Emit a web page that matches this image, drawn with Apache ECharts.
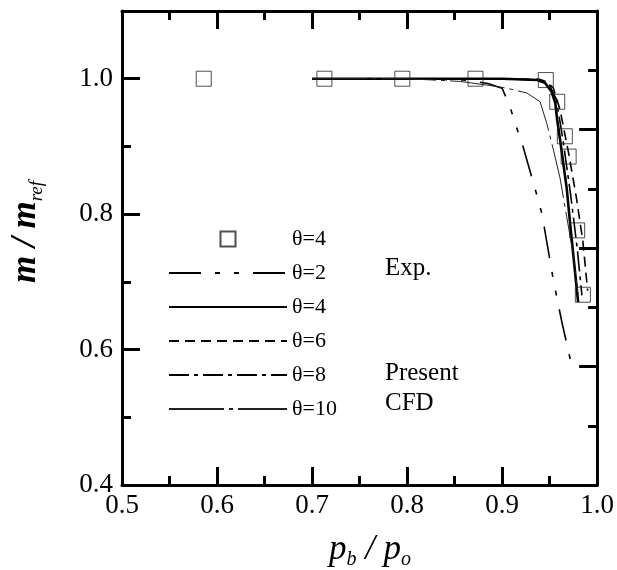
<!DOCTYPE html>
<html>
<head>
<meta charset="utf-8">
<script src="https://cdn.jsdelivr.net/npm/echarts@6/dist/echarts.min.js"></script>
<style>
  html, body { margin: 0; padding: 0; background: #fff; }
  #chart { width: 617px; height: 570px; }
</style>
</head>
<body>
<div id="chart"></div>
<script>
// experiment, theta = 4
var expX = [0.586, 0.713, 0.795, 0.872, 0.946, 0.958, 0.966, 0.970, 0.979, 0.985];
var expY = [1.0, 1.0, 1.0, 1.0, 0.998, 0.966, 0.915, 0.885, 0.776, 0.681];

// present CFD curves
var t2X = [0.70, 0.80, 0.86, 0.885, 0.90, 0.908, 0.915, 0.922, 0.935, 0.942, 0.954, 0.963, 0.972];
var t2Y = [1.0, 1.0, 0.998, 0.993, 0.986, 0.96, 0.929, 0.90, 0.836, 0.80, 0.702, 0.64, 0.584];

var t4X = [0.70, 0.80, 0.90, 0.937, 0.945, 0.952, 0.956, 0.958, 0.961, 0.968, 0.972, 0.980];
var t4Y = [1.0, 1.0, 1.0, 0.998, 0.994, 0.981, 0.964, 0.939, 0.91, 0.838, 0.78, 0.67];

var t6X = [0.70, 0.90, 0.94, 0.948, 0.954, 0.961, 0.970, 0.978, 0.985, 0.990];
var t6Y = [1.0, 1.0, 0.999, 0.995, 0.986, 0.954, 0.89, 0.826, 0.76, 0.687];

var t8X = [0.70, 0.90, 0.94, 0.95, 0.957, 0.964, 0.972, 0.979, 0.984];
var t8Y = [1.0, 1.0, 0.998, 0.99, 0.97, 0.91, 0.83, 0.75, 0.68];

var t10X = [0.70, 0.80, 0.856, 0.887, 0.905, 0.926, 0.940, 0.947, 0.954, 0.961, 0.968, 0.975, 0.980];
var t10Y = [1.0, 1.0, 0.996, 0.99, 0.986, 0.979, 0.966, 0.934, 0.895, 0.853, 0.796, 0.74, 0.68];

var xTicks = [0.5, 0.6, 0.7, 0.8, 0.9, 1.0];
var yTicks = [0.4, 0.6, 0.8, 1.0];

var legendNames = {
    exp4: 'θ=4', t2: 'θ=2', t4: 'θ=4', t6: 'θ=6', t8: 'θ=8', t10: 'θ=10'
};

var serif = "'Liberation Serif', 'DejaVu Serif', serif";

function pairs(xs, ys) {
    return xs.map(function (x, i) { return [x, ys[i]]; });
}

var black = '#000';
var clear = 'rgba(0,0,0,0)';
var tickStyle = { color: black, width: 3 };

function xAx(pos, labels) {
    return {
        type: 'value',
        position: pos,
        min: xTicks[0],
        max: xTicks[xTicks.length - 1],
        interval: 0.1,
        axisLine: { show: true, onZero: false, lineStyle: { color: black, width: 3 } },
        axisTick: { show: true, inside: true, length: 18, lineStyle: tickStyle },
        minorTick: { show: true, splitNumber: 2, length: 9, lineStyle: tickStyle },
        axisLabel: {
            show: labels,
            color: black,
            fontFamily: serif,
            fontSize: 27,
            margin: 7,
            formatter: function (v) { return v.toFixed(1); }
        },
        splitLine: { show: false },
        minorSplitLine: { show: false }
    };
}

function cfdLine(name, xs, ys, width, dash, color) {
    return {
        name: name,
        type: 'line',
        showSymbol: false,
        symbol: 'none',
        itemStyle: { color: clear },
        lineStyle: { color: color || black, width: width, type: dash },
        data: pairs(xs, ys)
    };
}

var myChart = echarts.init(document.getElementById('chart'));

var option = {
    backgroundColor: '#fff',
    animation: false,
    grid: { left: 122, right: 19, top: 11, bottom: 85, containLabel: false },
    xAxis: [xAx('bottom', true), xAx('top', false)],
    yAxis: [
        {
            type: 'value',
            position: 'left',
            offset: 0,
            min: yTicks[0],
            max: 1.1,
            interval: 0.2,
            axisLine: { show: true, onZero: false, lineStyle: { color: black, width: 3 } },
            axisTick: { show: true, inside: true, length: 18, lineStyle: tickStyle },
            axisLabel: {
                color: black,
                fontFamily: serif,
                fontSize: 27,
                margin: 9,
                formatter: function (v) { return v > 1.05 ? '' : v.toFixed(1); }
            },
            splitLine: { show: false }
        },
        {
            type: 'value',
            position: 'left',
            offset: 0,
            min: 0.4,
            max: 1.1,
            interval: 0.1,
            axisLine: { show: false },
            axisTick: { show: true, inside: true, length: 9, lineStyle: tickStyle },
            axisLabel: { show: false },
            splitLine: { show: false }
        },
        {
            type: 'value',
            position: 'right',
            offset: 0,
            min: 0,
            max: 8,
            interval: 2,
            axisLine: { show: true, onZero: false, lineStyle: { color: black, width: 3 } },
            axisTick: { show: true, inside: true, length: 18, lineStyle: tickStyle },
            minorTick: { show: true, splitNumber: 2, length: 9, lineStyle: tickStyle },
            axisLabel: { show: false },
            splitLine: { show: false },
            minorSplitLine: { show: false }
        }
    ],
    legend: {
        orient: 'vertical',
        left: 168,
        top: 228,
        padding: 0,
        itemWidth: 118,
        itemHeight: 15,
        itemGap: 12,
        selectedMode: false,
        symbolKeepAspect: true,
        textStyle: { color: black, fontFamily: serif, fontSize: 22 },
        formatter: function (name) { return legendNames[name]; },
        data: [
            { name: 'exp4', icon: 'path://M0 0H10V10H0Z' },
            { name: 't2', itemStyle: { opacity: 0 } },
            { name: 't4', itemStyle: { opacity: 0 } },
            { name: 't6', itemStyle: { opacity: 0 } },
            { name: 't8', itemStyle: { opacity: 0 } },
            { name: 't10', itemStyle: { opacity: 0 } }
        ]
    },
    graphic: [
        {
            type: 'text', left: 385, top: 256,
            style: { text: 'Exp.', fill: black, font: '25px ' + serif }
        },
        {
            type: 'text', left: 385, top: 361,
            style: { text: 'Present', fill: black, font: '25px ' + serif }
        },
        {
            type: 'text', left: 385, top: 391,
            style: { text: 'CFD', fill: black, font: '25px ' + serif }
        },
        {
            type: 'text', x: 26, y: 232, rotation: Math.PI / 2,
            style: {
                text: '{m|m / m}{s|ref}',
                fill: black,
                align: 'center',
                verticalAlign: 'middle',
                rich: {
                    m: { fontFamily: serif, fontSize: 35, fontStyle: 'italic', fontWeight: 'bold', lineHeight: 40, fill: black },
                    s: { fontFamily: serif, fontSize: 19, fontStyle: 'italic', lineHeight: 22, verticalAlign: 'bottom', fill: black }
                }
            }
        },
        {
            type: 'text', x: 370, y: 550,
            style: {
                text: '{m|p}{s|b}{m| / p}{s|o}',
                fill: black,
                align: 'center',
                verticalAlign: 'middle',
                rich: {
                    m: { fontFamily: serif, fontSize: 35, fontStyle: 'italic', lineHeight: 40, fill: black },
                    s: { fontFamily: serif, fontSize: 20, fontStyle: 'italic', lineHeight: 22, verticalAlign: 'bottom', fill: black }
                }
            }
        }
    ],
    series: [
        {
            name: 'exp4',
            type: 'scatter',
            symbol: 'rect',
            symbolSize: 15,
            itemStyle: { color: clear, borderColor: '#222', borderWidth: 1 },
            data: pairs(expX, expY),
            z: 5
        },
        cfdLine('t2', t2X, t2Y, 1.6, [32, 14, 5, 14, 5, 14]),
        cfdLine('t4', t4X, t4Y, 2.6, 'solid'),
        cfdLine('t6', t6X, t6Y, 1.6, [10, 6]),
        cfdLine('t8', t8X, t8Y, 1.6, [20, 5, 4, 5]),
        cfdLine('t10', t10X, t10Y, 1, [55, 5, 4, 5], '#222')
    ]
};

myChart.setOption(option);
window.addEventListener('resize', function () {
    myChart.resize();
});
</script>
</body>
</html>
